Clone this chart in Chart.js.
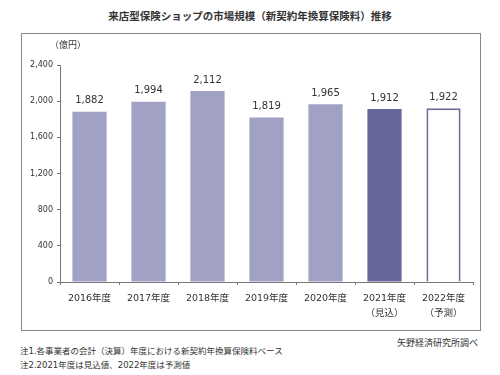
<!DOCTYPE html>
<html>
<head>
<meta charset="utf-8">
<script src="https://cdn.jsdelivr.net/npm/chart.js@4/dist/chart.umd.min.js"></script>
<style>
  body { margin: 0; background: #fff; font-family: "Noto Sans CJK JP", sans-serif; color: #333; }
  #wrap { position: relative; width: 500px; height: 375px; overflow: hidden; }
  .txt { position: absolute; white-space: nowrap; line-height: 1; }
  #title { top: 11px; left: 0; width: 500px; text-align: center; font-size: 10.5px; font-weight: bold; color: #333; }
  #frame { position: absolute; left: 21px; top: 33px; width: 458px; height: 296px; border: 1px solid #888; }
  #chart { position: absolute; left: 22px; top: 34px; }
  #unit { top: 40px; left: 50px; font-size: 9px; }
  #source { top: 338px; right: 22px; font-size: 9px; }
  #note1, #note2 { font-family: "DejaVu Sans", "Noto Sans CJK JP", sans-serif; font-size: 8.5px; }
  #note1 { top: 347px; left: 20px; }
  #note2 { top: 361px; left: 20px; }
</style>
</head>
<body>
<div id="wrap">
  <div id="title" class="txt">来店型保険ショップの市場規模（新契約年換算保険料）推移</div>
  <div id="frame"></div>
  <canvas id="chart" width="456" height="294"></canvas>
  <div id="unit" class="txt">（億円）</div>
  <div id="source" class="txt">矢野経済研究所調べ</div>
  <div id="note1" class="txt">注1.各事業者の会計（決算）年度における新契約年換算保険料ベース</div>
  <div id="note2" class="txt">注2.2021年度は見込値、2022年度は予測値</div>
</div>
<script>
const categories = [['2016年度'], ['2017年度'], ['2018年度'], ['2019年度'], ['2020年度'], ['2021年度', '（見込）'], ['2022年度', '（予測）']];
const marketSize = [1882, 1994, 2112, 1819, 1965, 1912, 1922];
const yTicks = [0, 400, 800, 1200, 1600, 2000, 2400];

const barColors = ['#a0a1c4', '#a0a1c4', '#a0a1c4', '#a0a1c4', '#a0a1c4', '#66669b', '#ffffff'];
const borderColors = ['#a0a1c4', '#a0a1c4', '#a0a1c4', '#a0a1c4', '#a0a1c4', '#66669b', '#6e6e98'];

// value labels above each bar
const valueLabels = {
    id: 'valueLabels',
    afterDatasetsDraw(chart) {
        const ctx = chart.ctx;
        const meta = chart.getDatasetMeta(0);
        ctx.save();
        ctx.font = '10px "DejaVu Sans", sans-serif';
        ctx.fillStyle = '#333';
        ctx.textAlign = 'center';
        ctx.textBaseline = 'middle';
        meta.data.forEach((bar, i) => {
            ctx.fillText(marketSize[i].toLocaleString('en-US'), bar.x, bar.y - 11);
        });
        ctx.restore();
    }
};

new Chart(document.getElementById('chart'), {
    type: 'bar',
    data: {
        labels: categories,
        datasets: [{
            data: marketSize,
            backgroundColor: barColors,
            borderColor: borderColors,
            borderWidth: [0, 0, 0, 0, 0, 0, 2],
            categoryPercentage: 1,
            barPercentage: 0.58
        }]
    },
    options: {
        responsive: false,
        animation: false,
        layout: { padding: { top: 31, right: 5, left: 0, bottom: 0 } },
        plugins: { legend: { display: false }, tooltip: { enabled: false } },
        scales: {
            y: {
                min: 0,
                max: 2400,
                afterFit(scale) { scale.width = 38; },
                afterBuildTicks(scale) { scale.ticks = yTicks.map(v => ({ value: v })); },
                border: { color: '#777', width: 1 },
                grid: { drawOnChartArea: false, tickLength: 3, color: '#777' },
                ticks: {
                    padding: 4,
                    color: '#333',
                    font: { family: '"DejaVu Sans", sans-serif', size: 8 },
                    callback: v => v.toLocaleString('en-US')
                }
            },
            x: {
                afterFit(scale) { scale.height = 46; },
                border: { color: '#777', width: 1 },
                grid: { drawOnChartArea: false, offset: true, tickLength: 3, color: '#777' },
                ticks: {
                    padding: 6,
                    color: '#333',
                    maxRotation: 0,
                    font: { family: '"DejaVu Sans", "Noto Sans CJK JP", sans-serif', size: 9.5, lineHeight: 1.6 }
                }
            }
        }
    },
    plugins: [valueLabels]
});
</script>
</body>
</html>
